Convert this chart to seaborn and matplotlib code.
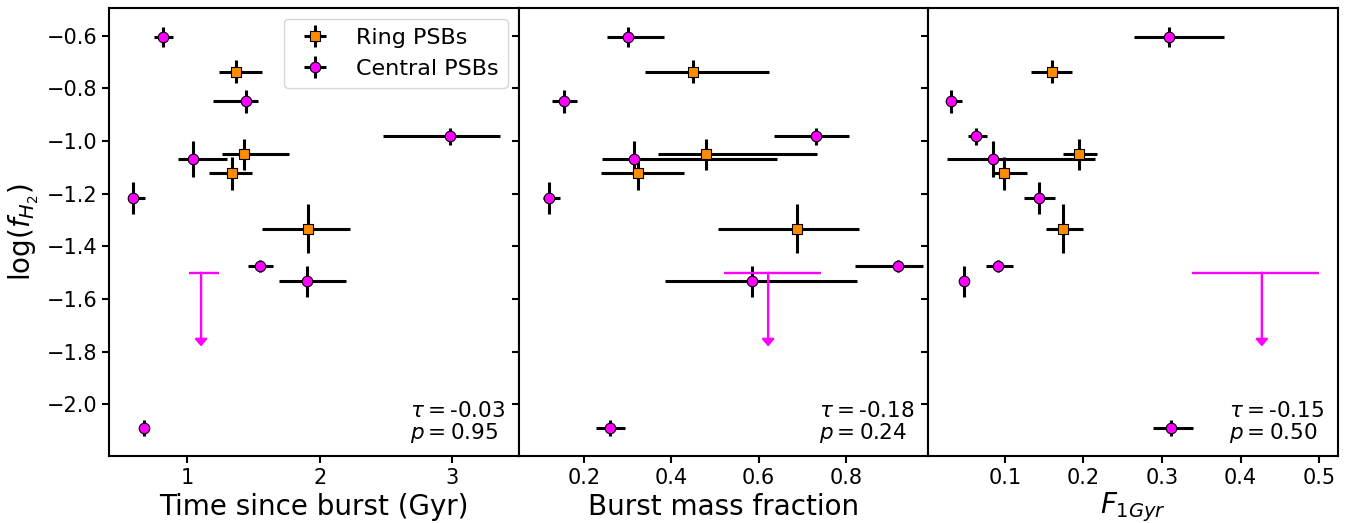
import seaborn as sns
import matplotlib.pyplot as plt
import pandas as pd
from matplotlib.lines import Line2D

# log(f_H2) for the two samples (same order in every panel)
ring_logf = [-0.737, -1.051, -1.122, -1.333]
ring_logf_err = [0.044, 0.060, 0.063, 0.093]
central_logf = [-0.606, -0.849, -0.982, -1.069, -1.216, -1.475, -1.533, -2.090]
central_logf_err = [0.037, 0.044, 0.032, 0.069, 0.061, 0.022, 0.058, 0.030]

# panel 1: time since burst (Gyr)
tsb_ring = [1.371, 1.429, 1.336, 1.909]
tsb_ring_lo = [0.129, 0.164, 0.169, 0.348]
tsb_ring_hi = [0.192, 0.338, 0.152, 0.321]
tsb_central = [0.818, 1.444, 2.985, 1.040, 0.591, 1.551, 1.904, 0.677]
tsb_central_lo = [0.072, 0.247, 0.510, 0.111, 0.040, 0.091, 0.215, 0.020]
tsb_central_hi = [0.072, 0.086, 0.371, 0.263, 0.093, 0.096, 0.295, 0.020]

# panel 2: burst mass fraction
bmf_ring = [0.449, 0.480, 0.325, 0.688]
bmf_ring_lo = [0.110, 0.111, 0.085, 0.181]
bmf_ring_hi = [0.176, 0.255, 0.105, 0.141]
bmf_central = [0.301, 0.154, 0.732, 0.315, 0.121, 0.920, 0.585, 0.261]
bmf_central_lo = [0.049, 0.026, 0.096, 0.074, 0.015, 0.099, 0.200, 0.034]
bmf_central_hi = [0.083, 0.031, 0.074, 0.327, 0.024, 0.056, 0.241, 0.034]

# panel 3: F_1Gyr
f1_ring = [0.160, 0.194, 0.0996, 0.174]
f1_ring_lo = [0.026, 0.020, 0.015, 0.022]
f1_ring_hi = [0.025, 0.023, 0.029, 0.026]
f1_central = [0.309, 0.032, 0.064, 0.085, 0.143, 0.0915, 0.0485, 0.311]
f1_central_lo = [0.045, 0.007, 0.011, 0.058, 0.018, 0.015, 0.003, 0.023]
f1_central_hi = [0.070, 0.014, 0.013, 0.130, 0.021, 0.019, 0.003, 0.029]

# upper limit (central PSB without detection)
ul_logf = -1.5
ul_arrow = 0.28
ul_x = [1.104, 0.622, 0.427]
ul_x_lo = [0.088, 0.102, 0.089]
ul_x_hi = [0.134, 0.120, 0.073]

# Kendall tau / p-values
taus = ['-0.03', '-0.18', '-0.15']
pvals = ['0.95', '0.24', '0.50']

xlabels = ['Time since burst (Gyr)', 'Burst mass fraction', r'$F_{1Gyr}$']
xlims = [(0.41, 3.5), (0.051, 0.989), (0.003, 0.524)]
xticks = [[1, 2, 3], [0.2, 0.4, 0.6, 0.8], [0.1, 0.2, 0.3, 0.4, 0.5]]

ring_x = [tsb_ring, bmf_ring, f1_ring]
ring_lo = [tsb_ring_lo, bmf_ring_lo, f1_ring_lo]
ring_hi = [tsb_ring_hi, bmf_ring_hi, f1_ring_hi]
central_x = [tsb_central, bmf_central, f1_central]
central_lo = [tsb_central_lo, bmf_central_lo, f1_central_lo]
central_hi = [tsb_central_hi, bmf_central_hi, f1_central_hi]

ring_color = 'darkorange'
central_color = 'magenta'

fig, axes = plt.subplots(1, 3, figsize=(13.53, 5.23), dpi=100, sharey=True)
plt.subplots_adjust(left=0.0806, right=0.989, top=0.985, bottom=0.128, wspace=0)

for i, ax in enumerate(axes):
    ring_df = pd.DataFrame({'x': ring_x[i], 'y': ring_logf})
    central_df = pd.DataFrame({'x': central_x[i], 'y': central_logf})

    # error bars
    eb_ring = ax.errorbar(ring_df['x'], ring_df['y'], xerr=[ring_lo[i], ring_hi[i]],
                          yerr=ring_logf_err, fmt='none', ecolor='black',
                          elinewidth=2.2, zorder=2)
    eb_central = ax.errorbar(central_df['x'], central_df['y'],
                             xerr=[central_lo[i], central_hi[i]],
                             yerr=central_logf_err, fmt='none', ecolor='black',
                             elinewidth=2.2, zorder=2)

    # markers
    sns.scatterplot(data=ring_df, x='x', y='y', ax=ax, marker='s', s=52,
                    color=ring_color, edgecolor='black', linewidth=0.8,
                    zorder=3, legend=False)
    sns.scatterplot(data=central_df, x='x', y='y', ax=ax, marker='o', s=58,
                    color=central_color, edgecolor='black', linewidth=0.8,
                    zorder=3, legend=False)

    # upper limit: horizontal range plus downward arrow
    ax.hlines(ul_logf, ul_x[i] - ul_x_lo[i], ul_x[i] + ul_x_hi[i],
              color=central_color, lw=1.7, zorder=2)
    ax.annotate('', xy=(ul_x[i], ul_logf - ul_arrow), xytext=(ul_x[i], ul_logf),
                arrowprops=dict(arrowstyle='-|>,head_length=0.35,head_width=0.3',
                                color=central_color, lw=1.7, mutation_scale=12,
                                shrinkA=0, shrinkB=0))

    ax.text(0.966, 0.025, r'$\tau = $' + taus[i] + '\n' + r'$p = $' + pvals[i],
            transform=ax.transAxes, ha='right', va='bottom', ma='left',
            fontsize=15.5, linespacing=1.0)

    ax.set_xlim(*xlims[i])
    ax.set_xticks(xticks[i])
    ax.set_xlabel(xlabels[i], fontsize=20, labelpad=2 if i == 2 else 4)
    ax.set_ylabel('')
    ax.tick_params(labelsize=15, width=1.5, length=5)
    for sp in ax.spines.values():
        sp.set_linewidth(1.5)

    if i == 0:
        ring_proxy = Line2D([], [], marker='s', ls='none', mfc=ring_color,
                            mec='black', mew=0.8, ms=7.2)
        central_proxy = Line2D([], [], marker='o', ls='none', mfc=central_color,
                               mec='black', mew=0.8, ms=7.6)
        ax.legend([(eb_ring, ring_proxy), (eb_central, central_proxy)],
                  ['Ring PSBs', 'Central PSBs'], loc='upper right', fontsize=16,
                  handletextpad=0.85, handlelength=2.0)

axes[0].set_ylim(-2.196, -0.4945)
axes[0].set_yticks([-2.0, -1.8, -1.6, -1.4, -1.2, -1.0, -0.8, -0.6])
axes[0].set_ylabel(r'log($f_{H_2}$)', fontsize=20)

plt.savefig('out.png', dpi=100)
